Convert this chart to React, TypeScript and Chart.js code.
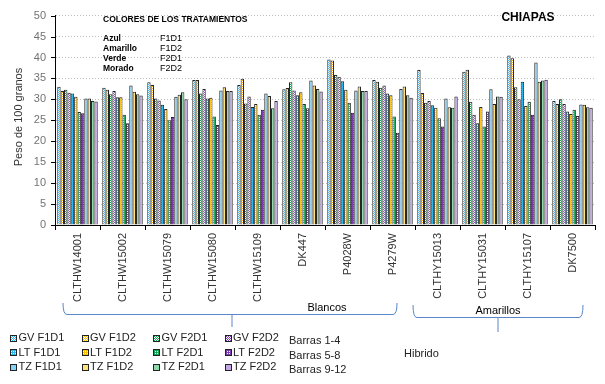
import React, { useEffect, useRef } from 'react';
import { Chart, registerables } from 'chart.js';

Chart.register(...registerables);

const FONT = '"Liberation Sans", Arial, sans-serif';

const categories = ['CLTHW14001', 'CLTHW15002', 'CLTHW15079', 'CLTHW15080', 'CLTHW15109', 'DK447', 'P4028W', 'P4279W', 'CLTHY15013', 'CLTHY15031', 'CLTHY15107', 'DK7500'];

const gvF1D1 = [33.0, 32.8, 34.1, 34.6, 33.4, 32.4, 39.5, 34.6, 37.0, 36.6, 40.5, 29.6];
const gvF1D2 = [32.0, 32.3, 33.4, 34.6, 34.9, 32.7, 39.3, 34.2, 31.5, 37.1, 39.8, 28.9];
const gvF2D1 = [32.3, 31.2, 30.2, 31.4, 29.0, 34.1, 35.8, 32.8, 29.2, 29.4, 32.9, 30.0];
const gvF2D2 = [31.6, 32.0, 29.7, 32.5, 30.7, 32.1, 35.4, 33.3, 29.6, 26.3, 30.0, 28.9];
const ltF1D1 = [31.4, 30.5, 28.7, 30.2, 28.2, 31.0, 34.3, 31.4, 28.6, 24.3, 34.2, 27.1];
const ltF1D2 = [30.6, 30.5, 27.7, 30.4, 28.9, 31.7, 32.3, 31.0, 28.0, 28.2, 28.4, 26.5];
const ltF2D1 = [27.0, 26.3, 25.0, 25.9, 26.3, 28.9, 29.2, 25.9, 25.5, 23.5, 29.4, 27.5];
const ltF2D2 = [26.7, 24.3, 25.8, 23.9, 27.5, 27.9, 26.8, 22.0, 23.5, 27.1, 26.3, 26.0];
const tzF1D1 = [30.2, 33.3, 30.6, 32.1, 31.4, 34.5, 32.1, 32.5, 30.2, 32.4, 38.8, 28.8];
const tzF1D2 = [30.2, 31.8, 31.1, 32.9, 30.8, 33.3, 33.1, 33.1, 28.1, 28.9, 34.2, 28.7];
const tzF2D1 = [29.6, 31.2, 31.7, 32.0, 27.9, 32.5, 32.0, 31.0, 28.0, 30.7, 34.5, 28.1];
const tzF2D2 = [29.5, 30.9, 30.0, 32.0, 29.6, 31.9, 32.0, 30.4, 30.7, 30.6, 34.7, 28.0];

const seriesNames = ['GV F1D1', 'GV F1D2', 'GV F2D1', 'GV F2D2', 'LT F1D1', 'LT F1D2', 'LT F2D1', 'LT F2D2', 'TZ F1D1', 'TZ F1D2', 'TZ F2D1', 'TZ F2D2'];
const seriesValues = [gvF1D1, gvF1D2, gvF2D1, gvF2D2, ltF1D1, ltF1D2, ltF2D1, ltF2D2, tzF1D1, tzF1D2, tzF2D1, tzF2D2];

const yTicks = [0, 5, 10, 15, 20, 25, 30, 35, 40, 45, 50];

const baseColors = ['#29b6ef', '#ffbf00', '#13a856', '#7d3cb0'];
const lightColors = ['#86d4f5', '#ffe27a', '#8fd9ac', '#c4a6e6'];

const colorKeyNames = ['Azul', 'Amarillo', 'Verde', 'Morado'];
const colorKeyCodes = ['F1D1', 'F1D2', 'F2D1', 'F2D2'];
const barGroupLabels = ['Barras 1-4', 'Barras 5-8', 'Barras 9-12'];

function makeFill(color: string, light: string, kind: number): any {
  if (kind === 2) return light;
  const c = document.createElement('canvas');
  c.width = 2;
  c.height = 2;
  const x = c.getContext('2d')!;
  x.fillStyle = '#ffffff';
  x.fillRect(0, 0, 2, 2);
  x.fillStyle = color;
  if (kind === 0) {
    x.fillRect(0, 0, 1, 1);
    x.fillRect(1, 1, 1, 1);
  } else {
    x.fillRect(0, 0, 2, 1);
    x.fillRect(0, 1, 1, 1);
  }
  return x.createPattern(c, 'repeat');
}

export default function App() {
  const ref = useRef<HTMLCanvasElement>(null);

  useEffect(() => {
    const canvas = ref.current;
    if (!canvas) return;

    const fills = seriesNames.map((_, i) => makeFill(baseColors[i % 4], lightColors[i % 4], Math.floor(i / 4)));

    const datasets = seriesNames.map((name, i) => ({
      label: name,
      data: seriesValues[i],
      backgroundColor: fills[i],
      borderColor: '#262626',
      borderWidth: 1,
      borderSkipped: 'bottom' as const,
      categoryPercentage: 0.9,
      barPercentage: 1.0,
    }));

    const annotations = {
      id: 'annotations',
      afterDraw(chart: any) {
        const c = chart.ctx as CanvasRenderingContext2D;
        const ys = chart.scales.y;
        const left = chart.chartArea.left;
        c.save();
        // y tick marks
        c.strokeStyle = '#000';
        c.lineWidth = 1;
        yTicks.forEach((v) => {
          const y = Math.round(ys.getPixelForValue(v)) + 0.5;
          c.beginPath();
          c.moveTo(left - 4, y);
          c.lineTo(left, y);
          c.stroke();
        });

        // y axis title
        c.save();
        c.translate(19, 117);
        c.rotate(-Math.PI / 2);
        c.fillStyle = '#333';
        c.font = `11px ${FONT}`;
        c.textAlign = 'center';
        c.textBaseline = 'middle';
        c.fillText('Peso de 100 granos', 0, 0);
        c.restore();

        // Title
        c.fillStyle = '#000';
        c.font = `bold 12px ${FONT}`;
        c.textAlign = 'center';
        c.textBaseline = 'middle';
        c.fillText('CHIAPAS', 528, 18);

        // color key
        c.textAlign = 'left';
        c.font = `bold 8.5px ${FONT}`;
        c.fillText('COLORES DE LOS TRATAMIENTOS', 103, 20);
        colorKeyNames.forEach((n, i) => {
          c.font = `bold 8.5px ${FONT}`;
          c.fillText(n, 103, 39 + i * 10);
          c.font = `9px ${FONT}`;
          c.fillText(colorKeyCodes[i], 160, 39 + i * 10);
        });

        // brackets
        c.strokeStyle = '#5a86c8';
        c.lineWidth = 1;
        const bracket = (x1: number, x2: number, yTop: number, yLine: number, xc: number, yTip: number) => {
          c.beginPath();
          c.moveTo(x1, yTop);
          c.quadraticCurveTo(x1, yLine, x1 + 4, yLine);
          c.lineTo(x2 - 4, yLine);
          c.quadraticCurveTo(x2, yLine, x2, yTop);
          c.stroke();
          c.beginPath();
          c.moveTo(xc, yLine);
          c.lineTo(xc, yTip);
          c.stroke();
        };
        bracket(63, 397, 303, 314.5, 232, 327);
        bracket(413, 583, 305, 317.5, 498, 332);
        c.fillStyle = '#000';
        c.font = `11px ${FONT}`;
        c.textAlign = 'center';
        c.fillText('Blancos', 327, 308);
        c.fillText('Amarillos', 498, 311);

        // legend
        c.textAlign = 'left';
        seriesNames.forEach((n, i) => {
          const row = Math.floor(i / 4);
          const col = i % 4;
          const bx = 10 + col * 71.5;
          const by = 338 + row * 14.5;
          c.fillStyle = fills[i];
          c.fillRect(Math.round(bx), Math.round(by - 3.5), 7, 7);
          c.strokeStyle = '#222';
          c.lineWidth = 1;
          c.strokeRect(Math.round(bx) + 0.5, Math.round(by - 3.5) + 0.5, 6, 6);
          c.fillStyle = '#222';
          c.font = `11px ${FONT}`;
          c.fillText(n, bx + 8.5, by);
        });
        barGroupLabels.forEach((t, i) => {
          c.fillText(t, 289, 341 + i * 14.5);
        });
        c.fillText('Hibrido', 404, 354);
        c.restore();
      },
    };

    const chart = new Chart(canvas, {
      type: 'bar',
      data: { labels: categories, datasets },
      options: {
        animation: false,
        responsive: false,
        devicePixelRatio: 1,
        layout: { padding: { left: 0, right: 10, top: 11, bottom: 79 } },
        plugins: { legend: { display: false }, tooltip: { enabled: false } },
        scales: {
          x: {
            offset: true,
            afterFit: (s: any) => { s.height = 80; },
            grid: { display: true, drawOnChartArea: false, drawTicks: true, tickLength: 5, color: '#000' },
            border: { display: true, color: '#000', width: 1 },
            ticks: {
              autoSkip: false,
              minRotation: 90,
              maxRotation: 90,
              padding: 3,
              color: '#333',
              font: { family: FONT, size: 11 },
            },
          },
          y: {
            min: 0,
            max: 50,
            afterFit: (s: any) => { s.width = 55; },
            ticks: { stepSize: 5, padding: 9, color: '#737373', font: { family: FONT, size: 11 } },
            grid: { display: true, drawTicks: false, color: '#bdbdbd', lineWidth: 1 },
            border: { display: true, color: '#000', width: 1, dash: [1, 2] },
          },
        },
      },
      plugins: [annotations],
    });

    return () => chart.destroy();
  }, []);

  return (
    <div style={{ position: 'absolute', left: 0, top: 0, width: 605, height: 384, background: '#fff' }}>
      <canvas ref={ref} width={605} height={384} style={{ display: 'block' }} />
    </div>
  );
}
